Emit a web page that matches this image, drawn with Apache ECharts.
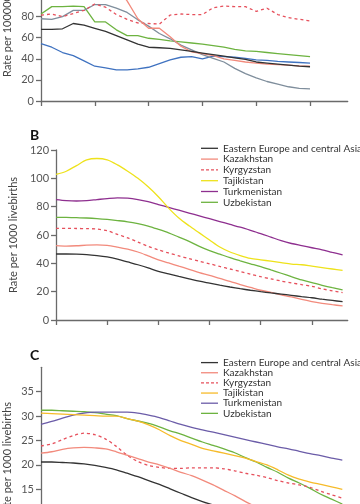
<!DOCTYPE html>
<html><head><meta charset="utf-8">
<script src="https://cdn.jsdelivr.net/npm/echarts@6/dist/echarts.min.js"></script>
<style>html,body{margin:0;padding:0;background:#fff}#c{width:360px;height:504px}</style>
</head><body><div id="c"></div>
<script>
// ---------- data ----------
const countryNames = ["Eastern Europe and central Asia","Kazakhstan","Kyrgyzstan","Tajikistan","Turkmenistan","Uzbekistan"];
const xTicks = [1990,1995,2000,2005,2010,2015];
const yearsA = [1990,1991,1992,1993,1994,1995,1996,1997,1998,1999,2000,2001,2002,2003,2004,2005,2006,2007,2008,2009,2010,2011,2012,2013,2014,2015];
const yearsBC = [1990,1991,1992,1993,1994,1995,1996,1997,1998,1999,2000,2001,2002,2003,2004,2005,2006,2007,2008,2009,2010,2011,2012,2013,2014,2015,2016,2017,2018];

// Panel A (rate per 100000)
const aRegion  = [68,68,68.5,73.5,72,69,66,62,58,54,51,50.5,50,48.5,47,45.5,44,42.5,41,39.5,37,36,35,34,33,32.5];
const aKaz     = [118,119,121,124,126,122,116,108,95,78,69,69,61,52,46.5,45,43,40,38.5,37,36,35,34.5,34,33.3,33];
const aKyr     = [81.5,82.5,80,83,86,92,89,82,77.5,74,73.5,73,81.5,82.5,82,82,88.5,90,89.5,89.5,85,88,82,79,77.5,76];
const aTaj     = [78,77.5,80,86,86,91.5,91.5,88,84,77,71,64,59,53,48.5,44,40.5,37,31,26,22,18.5,16,13.5,12,11.5];
const aTkm     = [54.5,51,46,43,38,33,31.5,29.5,29.5,30.5,32,35.5,39,41.5,42,40,42.5,42,41.5,40.5,39,38.5,37.5,37,36.5,36];
const aUzb     = [82.5,89.5,89.5,90,89.5,75,75,67.5,62,62,59.5,58.5,57,56,55,54,52.5,51,49,47.5,47,46,45,44,43,42];

// Panel B (rate per 1000 livebirths)
const bRegion  = [46.6,46.6,46.5,46.2,45.5,44.5,43,41,39,36.8,34.4,32.6,30.8,29.1,27.4,26,24.6,23.3,22.1,21,20,19.1,18.3,17.4,16.5,15.7,14.7,13.8,12.9];
const bKaz     = [52.5,52.2,52.4,52.8,53,52.7,51.5,50,48,45.3,42.5,40.3,38,35.8,33.5,31.5,29.3,27.3,25,23,21,19.5,17.8,16.3,14.5,13,11.8,10.8,9.9];
const bKyr     = [64.7,64.7,64.6,64.5,64.2,63,60.5,58,55,52,49.5,47.3,45.3,43.3,41.5,39.7,37.8,36,34.2,32.4,30.6,29,27.5,26.2,25,23.8,22,20.6,19.3];
const bTaj     = [102.8,105,109,113,114,113,109.5,105,100,94,87,79,72,66.5,61.5,56.5,51.5,48,45.5,43.5,42.5,41.5,40.5,39.5,39,38,37,36,35];
const bTkm     = [85,84.3,84,84.3,85,85.7,86.2,86,85,83.5,81.5,79.5,77.5,75.5,73.5,71.5,69.5,67.5,65.5,63.3,61,58.5,56,54,52.5,51,49.5,47.7,46];
const bUzb     = [72.5,72.4,72.2,72,71.6,71,70.2,69.3,68,66.3,64,61.5,58.5,55.5,52,49,46.5,44,41.8,39.7,37.6,35.3,33,30.6,28.3,26.3,24.5,22.8,21.2];

// Panel C (rate per 1000 livebirths)
const cRegion  = [20.6,20.6,20.5,20.4,20.2,19.9,19.5,19,18.3,17.6,16.8,16,15.1,14.2,13.3,12.5,11.8,11.2,10.6,10.1,9.6,9.2,8.8,8.4,8,7.7,7.4,7.1,6.8];
const cKaz     = [22.4,22.7,23.2,23.5,23.6,23.5,23.3,22.7,22,21.3,20.6,20,19.3,18.5,17.8,16.9,15.9,14.8,13.7,12.5,11.4,10.4,9.5,8.8,8.2,7.6,7.1,6.7,6.3];
const cKyr     = [23.9,24.3,25.2,26,26.5,26.2,25.3,23.8,22,20.7,19.9,19.5,19.3,19.3,19.4,19.4,19.4,19.2,18.8,18.3,17.9,17.4,16.8,16.3,15.9,15.4,14.6,13.9,13.2];
const cTaj     = [30.6,30.5,30.4,30.3,30.2,30.1,30,30,29.5,29,28.2,27.2,26,25,24.2,23.4,22.9,22.4,21.9,21.4,20.7,20,19,17.9,17.1,16.5,16,15.5,15];
const cTkm     = [28.3,28.9,29.6,30.2,30.6,30.8,30.8,30.8,30.8,30.6,30.2,29.7,29,28.3,27.7,27.2,26.7,26.2,25.7,25.2,24.7,24.2,23.7,23.3,22.8,22.3,21.9,21.4,21];
const cUzb     = [31.2,31.2,31.1,31,30.9,30.7,30.4,30.1,29.5,29,28.5,27.8,27,26.3,25.5,24.7,24,23.3,22.5,21.5,20.6,19.5,18.5,17.3,16.3,15.2,14,13,12];

const yTicksA = [0,20,40,60,80];
const yTicksB = [0,20,40,60,80,100,120];
const yTicksC = [15,20,25,30,35];

// ---------- styles ----------
const FONT = 'Lato';
const colA = ['#333333','#f28a7c','#e6505c','#7f8e9c','#3f72c0','#6db340'];
const colB = ['#333333','#f28a7c','#e6505c','#eee21b','#8e2f8f','#6db340'];
const colC = ['#333333','#f28a7c','#e6505c','#f6bb2a','#6b5ca8','#6db340'];
const dashIdx = 2;

const dataA = [aRegion,aKaz,aKyr,aTaj,aTkm,aUzb];
const dataB = [bRegion,bKaz,bKyr,bTaj,bTkm,bUzb];
const dataC = [cRegion,cKaz,cKyr,cTaj,cTkm,cUzb];

const axisGray = '#6a6a6a';
function xAxis(gi, showLine){
  return {type:'value', gridIndex:gi, min:1990, max:2018.5,
    axisLine:{show:showLine,onZero:false,lineStyle:{color:axisGray,width:1.3}},
    axisTick:{show:showLine,length:5,lineStyle:{color:axisGray,width:1.3}, customValues:xTicks},
    axisLabel:{show:false}, splitLine:{show:false}};
}
function yAxis(gi,min,max,name,ticks,nameGap){
  return {type:'value', gridIndex:gi, min:min, max:max,
    name:name, nameLocation:'middle', nameGap:nameGap, nameRotate:90,
    nameTextStyle:{fontFamily:FONT,fontSize:11,color:'#444'},
    axisLine:{show:true,lineStyle:{color:axisGray,width:1.3}},
    axisTick:{show:true,length:5,lineStyle:{color:axisGray,width:1.3},customValues:ticks},
    axisLabel:{show:true,margin:7,fontFamily:FONT,fontSize:11,color:'#555',customValues:ticks},
    splitLine:{show:false}};
}
const series = [];
function addSeries(gi, years, arrs, cols, smooth){
  arrs.forEach((arr,i)=>{
    series.push({type:'line', name:countryNames[i], xAxisIndex:gi, yAxisIndex:gi,
      data: years.map((y,k)=>[y,arr[k]]), symbol:'none', smooth:smooth, clip:true,
      lineStyle:{color:cols[i], width:1.3, type: i===dashIdx?[3,3]:'solid'},
      itemStyle:{color:cols[i]}, z: 10-i});
  });
}
addSeries(0, yearsA, dataA, colA, false);
addSeries(1, yearsBC, dataB, colB, 0.3);
addSeries(2, yearsBC, dataC, colC, 0.3);

const SOLID_ICON = 'path://M0,0h17v1.3h-17z';
const DASH_ICON = 'path://M0,0h3v1.3h-3zM5,0h3v1.3h-3zM10,0h3v1.3h-3zM15,0h2v1.3h-2z';
const LEG_FS = 10;
function legend(top, cols, itemH, gap){
  return {orient:'vertical', left:201, top:top, itemWidth:17, itemHeight:itemH, itemGap:gap,
    selectedMode:false, padding:0,
    textStyle:{fontFamily:FONT,fontSize:LEG_FS,color:'#333'},
    data: countryNames.map((n,i)=>({name:n, icon: i===dashIdx?DASH_ICON:SOLID_ICON,
      itemStyle:{color:cols[i], borderWidth:0}}))};
}

const option = {
  animation:false,
  backgroundColor:'#fff',
  title:[
    {text:'B', left:25, top:123, textStyle:{fontFamily:FONT,fontSize:14,fontWeight:'bold',color:'#111'}},
    {text:'C', left:25, top:343, textStyle:{fontFamily:FONT,fontSize:14,fontWeight:'bold',color:'#111'}}
  ],
  legend:[legend(143.3,colB,11.4,0.8), legend(357.6,colC,11.2,0.15)],
  graphic:[
    {type:'text', x:7, y:36, rotation:Math.PI/2, silent:true,
      style:{text:'Rate per 100000', align:'center', verticalAlign:'middle', font:'11px Lato', fill:'#444'}},
    {type:'text', x:7, y:460, rotation:Math.PI/2, silent:true,
      style:{text:'Rate per 1000 livebirths', align:'center', verticalAlign:'middle', font:'11px Lato', fill:'#444'}},
    {type:'text', x:223, y:-4, silent:true,
      style:{text:'Uzbekistan', align:'left', verticalAlign:'middle', font:LEG_FS+'px Lato', fill:'#333'}}
  ],
  grid:[
    {left:41, top:0, width:306.7, height:101},
    {left:41, top:150, width:306.7, height:170},
    {left:41, top:367.3, width:306.7, height:136.7}
  ],
  xAxis:[xAxis(0,true),xAxis(1,true),xAxis(2,false)],
  yAxis:[yAxis(0,0,95.8,'',yTicksA,28), yAxis(1,0,120,'Rate per 1000 livebirths',yTicksB,28), yAxis(2,12,40,'',yTicksC,28)],
  series: series
};
const chart = echarts.init(document.getElementById('c'), null, {renderer:'canvas'});
chart.setOption(option);
</script></body></html>
